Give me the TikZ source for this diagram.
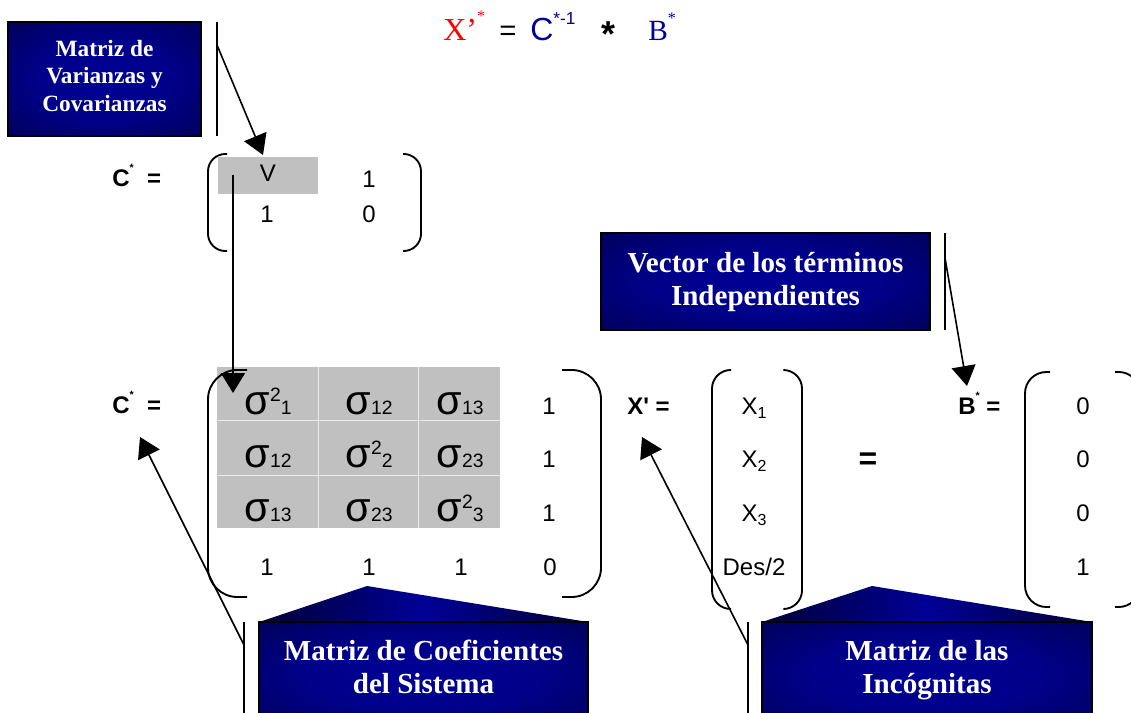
\documentclass[tikz,border=0pt]{standalone}
\usepackage{fontspec}
\setmainfont{Liberation Sans}
\newfontfamily\timesfont{Liberation Serif}
\usetikzlibrary{arrows.meta,positioning,calc}

\definecolor{navyC}{RGB}{0,0,150}
\definecolor{navyE}{RGB}{0,0,55}
\definecolor{formblue}{RGB}{0,0,153}
\definecolor{cellgray}{RGB}{192,192,192}
\pgfdeclareradialshading{navyglow}{\pgfpoint{0bp}{0bp}}{color(0bp)=(navyC); color(18bp)=(navyC!85!navyE); color(50bp)=(navyE); color(72bp)=(navyE)}

% sigma with a small index on the baseline, and sigma squared
\newcommand{\sgm}[1]{{\fontsize{31}{31}\selectfont σ}{\fontsize{14.5}{15}\selectfont #1}}
\newcommand{\sgmsq}[1]{{\fontsize{31}{31}\selectfont σ}\raisebox{9.5pt}{\fontsize{14.5}{15}\selectfont 2}{\fontsize{14.5}{15}\selectfont #1}}
\newcommand{\lowidx}[1]{\raisebox{-3pt}{\fontsize{12}{12}\selectfont #1}}
\newcommand{\upstar}[1]{\raisebox{0.6em}{\fontsize{#1}{#1}\selectfont *}}

\begin{document}
\begin{tikzpicture}[x=0.75pt, y=-0.75pt,
  ent/.style={font=\fontsize{18}{20}\selectfont, anchor=base, inner sep=0pt},
  eqlabel/.style={font=\bfseries\fontsize{18}{20}\selectfont, anchor=base west, inner sep=0pt},
  topterm/.style={anchor=base west, inner sep=0pt},
  boxtext/.style={font=\timesfont\bfseries\fontsize{21.8}{25}\selectfont, text=white, align=center, inner sep=0pt},
  navybox/.style={shading=navyglow, draw=black, line width=0.8pt},
  paren/.style={line width=1.4pt},
  bar/.style={line width=1.6pt},
  leader/.style={line width=1.2pt, -{Triangle[length=15pt, width=18pt]}},
  cellline/.style={white!70!cellgray, line width=0.6pt}]
  \fill[white] (0,0) rectangle (1131,713);
  \clip (0,0) rectangle (1131,713);

  % Formula on top
  \node[topterm, text=red, font=\timesfont\fontsize{24}{24}\selectfont] (xtop) at (443,41) {X’\upstar{12}};
  \node[topterm, font=\fontsize{22}{22}\selectfont] (eqtop) at (499,41) {=};
  \node[topterm, text=formblue, font=\fontsize{24}{24}\selectfont] (ctop) at (530,41) {C\raisebox{0.5em}{\fontsize{13}{13}\selectfont *-1}};
  \node[topterm, font=\bfseries\fontsize{27}{27}\selectfont] (multop) at (601,47) {*};
  \node[topterm, text=formblue, font=\timesfont\fontsize{22}{22}\selectfont] (btop) at (648,41) {B\upstar{12}};

  % Callout boxes
  \shade[navybox] (8,22) rectangle (201,136);
  \node[boxtext, font=\timesfont\bfseries\fontsize{17.5}{20.3}\selectfont] (varbox) at (104.5,76) {Matriz de\\Varianzas y\\Covarianzas};
  \shade[navybox] (601,233) rectangle (930,330);
  \node[boxtext] (vecbox) at (765.5,282) {Vector de los términos\\Independientes};
  \shade[left color=navyE, right color=navyE, middle color=navyC] (259,622) -- (367,586) -- (588,622) -- cycle;
  \shade[navybox] (259,622) rectangle (588,730);
  \node[boxtext] (coefbox) at (423.5,667) {Matriz de Coeficientes\\del Sistema};
  \shade[left color=navyE, right color=navyE, middle color=navyC] (762,622) -- (872,586) -- (1092,622) -- cycle;
  \shade[navybox] (762,622) rectangle (1092,730);
  \node[boxtext] (incbox) at (927,670) {Matriz de las\\Incógnitas};

  % Small matrix C*
  \node[eqlabel] (clabA) at (112,186) {C\upstar{8}\ \ =};
  \fill[cellgray] (218,157) rectangle (318,194);
  \node[ent] (v11) at (268,181) {V};
  \node[ent] (v12) at (369,188) {1};
  \node[ent] (v21) at (267,222) {1};
  \node[ent] (v22) at (369,222) {0};
  \draw[paren, rounded corners=13pt] (227,154) -- (208,154) -- (208,251) -- (227,251);
  \draw[paren, rounded corners=13pt] (403,154) -- (421,154) -- (421,251) -- (403,251);

  % Big matrix C*
  \node[eqlabel] (clabB) at (112,413) {C\upstar{8}\ \ =};
  \fill[cellgray] (217,367) rectangle (500,528);
  \draw[cellline] (318,367) -- (318,528) (418,367) -- (418,528)
                  (217,420) -- (500,420) (217,475) -- (500,475);
  \node[ent] (c11) at (268,414) {\sgmsq{1}};
  \node[ent] (c12) at (369,414) {\sgm{12}};
  \node[ent] (c13) at (460,414) {\sgm{13}};
  \node[ent] (c21) at (268,467.5) {\sgm{12}};
  \node[ent] (c22) at (369,467.5) {\sgmsq{2}};
  \node[ent] (c23) at (460,467.5) {\sgm{23}};
  \node[ent] (c31) at (268,521) {\sgm{13}};
  \node[ent] (c32) at (369,521) {\sgm{23}};
  \node[ent] (c33) at (460,521) {\sgmsq{3}};
  \foreach \r/\y in {1/414,2/467.5,3/521}
    \node[ent] (c\r4) at (549,\y) {1};
  \foreach \c/\x/\v in {1/267/1,2/369/1,3/461/1,4/550/0}
    \node[ent] (c4\c) at (\x,575) {\v};
  \draw[paren, rounded corners=22pt] (247,370) -- (208,370) -- (208,597) -- (247,597);
  \draw[paren, rounded corners=22pt] (562,370) -- (601,370) -- (601,597) -- (562,597);

  % Vector X'
  \node[eqlabel] (xlab) at (627,414) {X\textquotesingle\ =};
  \node[ent] (x1) at (754,414) {X\lowidx{1}};
  \node[ent] (x2) at (754,467.5) {X\lowidx{2}};
  \node[ent] (x3) at (754,521) {X\lowidx{3}};
  \node[ent] (x4) at (754,575) {Des/2};
  \draw[paren, rounded corners=14pt] (731,370) -- (712,370) -- (712,609) -- (731,609);
  \draw[paren, rounded corners=14pt] (785,370) -- (802,370) -- (802,609) -- (785,609);
  \node[inner sep=0pt, font=\bfseries\fontsize{24}{24}\selectfont] (bigeq) at (868,461) {=};

  % Vector B*
  \node[eqlabel] (blab) at (958,414) {B\upstar{8}\ =};
  \foreach \r/\y/\v in {1/414/0,2/467.5/0,3/521/0,4/575/1}
    \node[ent] (b\r) at (1083,\y) {\v};
  \draw[paren, rounded corners=16pt] (1050,372) -- (1025,372) -- (1025,607) -- (1050,607);
  \draw[paren, rounded corners=16pt] (1115,372) -- (1140,372) -- (1140,607) -- (1115,607);

  % Accent bars and leaders
  \coordinate (varbarT) at (217,22);  \coordinate (varbarB) at (217,136);
  \coordinate (varfoot) at (217,45);  \coordinate (vtip) at (263,155);
  \coordinate (vstart) at (233,175);  \coordinate (sigtip) at (233,393);
  \coordinate (vecbarT) at (945,233); \coordinate (vecbarB) at (945,330);
  \coordinate (vecfoot) at (945,258); \coordinate (btip) at (967,386);
  \coordinate (coefbarT) at (244,622); \coordinate (coefbarB) at (244,713);
  \coordinate (coeffoot) at (244,645); \coordinate (ctip) at (140,437);
  \coordinate (incbarT) at (748,622); \coordinate (incbarB) at (748,713);
  \coordinate (incfoot) at (748,645); \coordinate (xtip) at (642,437);
  \draw[bar] (varbarT) -- (varbarB);
  \draw[bar] (vecbarT) -- (vecbarB);
  \draw[bar] (coefbarT) -- (coefbarB);
  \draw[bar] (incbarT) -- (incbarB);
  \draw[leader] (varfoot) -- (vtip);
  \draw[leader] (vstart) -- (sigtip);
  \draw[leader] (vecfoot) -- (btip);
  \draw[leader] (coeffoot) -- (ctip);
  \draw[leader] (incfoot) -- (xtip);
\end{tikzpicture}
\end{document}
